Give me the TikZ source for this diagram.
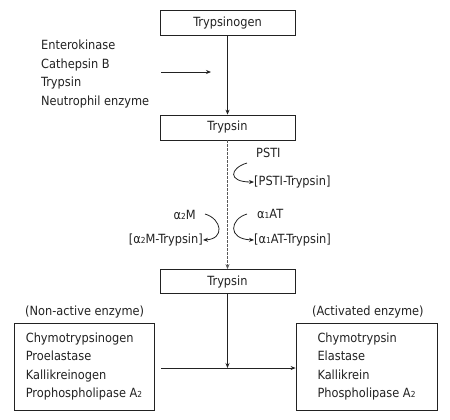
\documentclass[tikz,border=0pt]{standalone}
\usepackage{fontspec}
\setmainfont{DejaVu Sans Condensed}
\usetikzlibrary{arrows.meta}
\definecolor{ink}{HTML}{222222}
\tikzset{
  box/.style={draw=ink, line width=0.8bp, minimum width=135bp, minimum height=25bp, inner sep=0pt},
  listbox/.style={draw=ink, line width=0.8bp, minimum width=140bp, minimum height=87bp, align=left, inner sep=0pt},
  lbl/.style={inner sep=0pt, text=ink},
  conn/.style={draw=ink, line width=0.8bp, -{Stealth[length=5bp,width=4bp]}},
  dconn/.style={conn, dashed, dash pattern=on 2.5bp off 1.5bp, draw=ink!75},
  every node/.style={font=\fontsize{12.7}{18.5}\selectfont, text=ink}
}
\newcommand{\sbs}[1]{{\fontsize{8.3}{8}\selectfont #1}}
\begin{document}
\begin{tikzpicture}[x=1bp,y=-1bp]
\useasboundingbox (0,0) rectangle (450,419);
\node[box] (tg) at (227.5,23) {Trypsinogen};
\node[box] (t1) at (227.5,127.5) {Trypsin};
\node[box, minimum height=24bp] (t2) at (227.5,281.5) {Trypsin};
\node[listbox] (lb) at (84,366.5) {Chymotrypsinogen\\Proelastase\\Kallikreinogen\\Prophospholipase A\sbs{2}};
\node[listbox, minimum width=141bp] (rb) at (366.5,366.5) {Chymotrypsin\\Elastase\\Kallikrein\\Phospholipase A\sbs{2}};
\node[lbl, anchor=west] (na) at (25,312) {(Non-active enzyme)};
\node[lbl, anchor=west] (ac) at (312,312) {(Activated enzyme)};
\node[lbl, anchor=north west, align=left] (enz) at (41,40) {Enterokinase\\Cathepsin B\\Trypsin\\Neutrophil enzyme};
\node[lbl, anchor=west] (psti) at (256,153) {PSTI};
\node[lbl, anchor=west] (pstit) at (254,182) {[PSTI-Trypsin]};
\node[lbl, anchor=west] (aat) at (257,214) {α\sbs{1}AT};
\node[lbl, anchor=west] (aatt) at (254,240) {[α\sbs{1}AT-Trypsin]};
\node[lbl, anchor=east] (am) at (196,215) {α\sbs{2}M};
\node[lbl, anchor=east] (amt) at (203,240) {[α\sbs{2}M-Trypsin]};
% connectors
\draw[conn] (tg) -- (t1);
\coordinate (ea) at (161,72);
\coordinate (eb) at (211,72);
\draw[conn] (ea) -- (eb);
\draw[dconn] (t1) -- (t2);
\coordinate (p1) at (247,163);
\draw[conn] (p1) .. controls (230,168) and (227,182) .. (pstit.west);
\coordinate (a1) at (247,214);
\draw[conn] (a1) .. controls (230,219) and (227,239) .. (aatt.west);
\coordinate (m1) at (205,214);
\draw[conn] (m1) .. controls (222,219) and (225,239) .. (amt.east);
\coordinate (hx) at (227.5,368);
\coordinate (hs) at (161,368);
\draw[conn] (t2) -- (hx);
\draw[conn] (hs) -- (rb.west |- hx);
\end{tikzpicture}
\end{document}
